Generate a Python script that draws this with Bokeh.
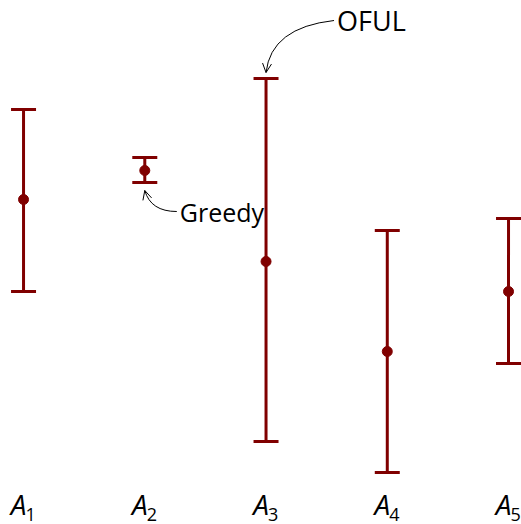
from bokeh.plotting import figure
from bokeh.models import Range1d, ColumnDataSource, Arrow, OpenHead
from bokeh.core.properties import value
from bokeh.embed import file_html
from bokeh.resources import INLINE

# Arms and their estimated rewards with confidence intervals
arms = [1, 2, 3, 4, 5]
arm_names = ["A", "A", "A", "A", "A"]
arm_subs = ["1", "2", "3", "4", "5"]
means = [3.01, 3.30, 2.39, 1.49, 2.09]
lower = [2.09, 3.18, 0.59, 0.28, 1.37]
upper = [3.91, 3.43, 4.22, 2.70, 2.82]

RED = "#800000"
FONT = "Open Sans"

src = ColumnDataSource(dict(x=arms, mean=means, lo=lower, hi=upper,
                            name=arm_names, sub=arm_subs))

p = figure(width=521, height=524, output_backend="svg", toolbar_location=None,
           x_range=Range1d(0.81, 5.107), y_range=Range1d(-0.24, 5.0),
           min_border=0, outline_line_color=None)
p.axis.visible = False
p.grid.visible = False
p.background_fill_color = "white"
p.border_fill_color = "white"

# Interval bars, caps and point estimates
p.segment(x0="x", y0="lo", x1="x", y1="hi", source=src, line_color=RED, line_width=3)
p.scatter(x="x", y="hi", source=src, marker="dash", size=25, line_color=RED, line_width=3)
p.scatter(x="x", y="lo", source=src, marker="dash", size=25, line_color=RED, line_width=3)
p.scatter(x="x", y="mean", source=src, marker="circle", size=10,
          fill_color=RED, line_color=RED)

# Arm labels A_i along the bottom
label_y = -0.225
sub_y = -0.205
p.text(x="x", y=label_y, text="name", source=src, text_font=value(FONT),
       text_font_style="italic", text_font_size="28px", text_align="right",
       text_baseline="bottom", x_offset=3, text_color="black")
p.text(x="x", y=sub_y, text="sub", source=src, text_font=value(FONT),
       text_font_size="18px", text_align="left", text_baseline="bottom",
       x_offset=2, text_color="black")

# Callout pointing at the widest interval (OFUL)
dx = 1 / 121.25
i3 = 2
end3 = (arms[i3], upper[i3] + 0.06)
ctrl3 = (arms[i3] + 5 * dx, 4.73)
start3 = (arms[i3] + 68 * dx, 4.80)
p.quadratic(x0=[start3[0]], y0=[start3[1]], x1=[end3[0]], y1=[end3[1]],
            cx=[ctrl3[0]], cy=[ctrl3[1]], line_color="black", line_width=1)
p.add_layout(Arrow(x_start=ctrl3[0], y_start=ctrl3[1], x_end=end3[0], y_end=end3[1],
                   line_alpha=0, end=OpenHead(size=9, line_width=1, line_color="black")))
p.text(x=[start3[0] + 3 * dx], y=[start3[1]], text=["OFUL"], text_font=value(FONT),
       text_font_size="27px", text_baseline="middle", text_align="left",
       text_color="black")

# Callout pointing at the narrowest interval (Greedy)
i2 = 1
end2 = (arms[i2], lower[i2] - 0.08)
ctrl2 = (arms[i2] + 6 * dx, 2.89)
start2 = (arms[i2] + 32 * dx, 2.89)
p.quadratic(x0=[start2[0]], y0=[start2[1]], x1=[end2[0]], y1=[end2[1]],
            cx=[ctrl2[0]], cy=[ctrl2[1]], line_color="black", line_width=1)
p.add_layout(Arrow(x_start=ctrl2[0], y_start=ctrl2[1], x_end=end2[0], y_end=end2[1],
                   line_alpha=0, end=OpenHead(size=9, line_width=1, line_color="black")))
p.text(x=[start2[0] + 3 * dx], y=[start2[1]], text=["Greedy"], text_font=value(FONT),
       text_font_size="25px", text_baseline="middle", text_align="left",
       text_color="black")

open("out.html", "w").write(file_html(p, INLINE))
